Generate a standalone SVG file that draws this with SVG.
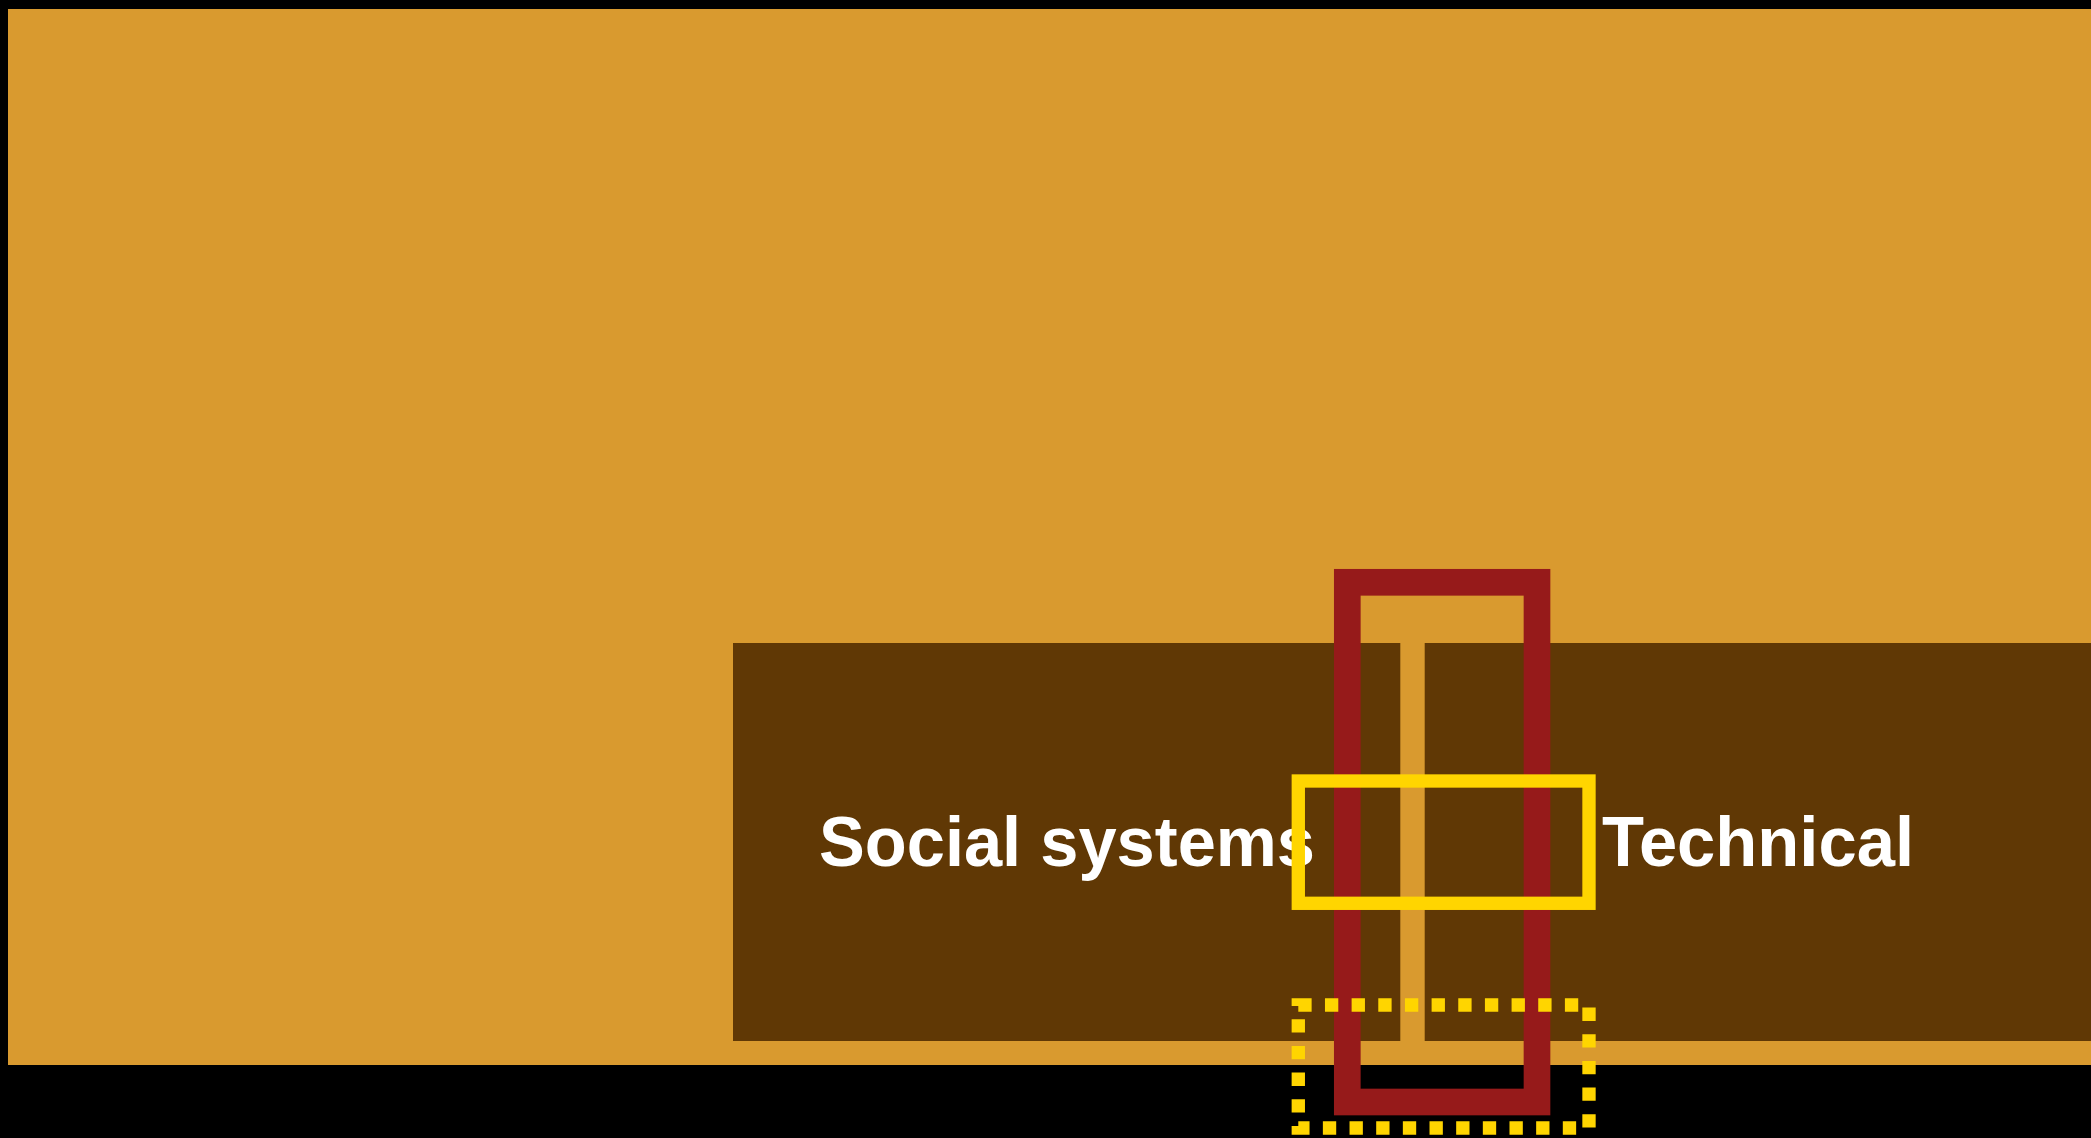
<svg xmlns="http://www.w3.org/2000/svg" width="2091" height="1138" viewBox="0 0 2091 1138">
  <style>
    .panel { fill: #603805; }
    .label { font-family: "Liberation Sans", Arial, Helvetica, sans-serif; font-weight: bold; font-size: 70px; fill: #ffffff; }
    .frame-red { fill: none; stroke: #961a1a; stroke-width: 26.67; }
    .frame-gold { fill: none; stroke: #ffd500; stroke-width: 13.33; }
    .frame-gold-dotted { fill: none; stroke: #ffd500; stroke-width: 13.33; stroke-dasharray: 13.33 13.33; }
  </style>

  <!-- backdrop -->
  <rect x="0" y="0" width="2091" height="1138" fill="#000000"/>
  <rect x="8" y="9" width="2083" height="1056" fill="#d99a2f"/>

  <!-- social systems panel -->
  <g id="social-systems">
    <rect class="panel" x="733" y="643" width="667.3" height="398"/>
    <text class="label" x="819" y="866" textLength="496" lengthAdjust="spacingAndGlyphs">Social systems</text>
  </g>

  <!-- technical panel -->
  <g id="technical">
    <rect class="panel" x="1424.7" y="643" width="667" height="398"/>
    <text class="label" x="1602" y="866" textLength="312" lengthAdjust="spacingAndGlyphs">Technical</text>
  </g>

  <!-- highlight frames -->
  <g id="red-frame">
    <rect class="frame-red" x="1347.3" y="582.3" width="189.7" height="519.7"/>
  </g>
  <g id="gold-frame">
    <rect class="frame-gold" x="1298.3" y="781" width="290.7" height="122.3"/>
  </g>
  <g id="gold-dotted-frame">
    <rect class="frame-gold-dotted" x="1298.3" y="1005" width="290.7" height="123"/>
  </g>

  <g id="connectors"/>
</svg>
